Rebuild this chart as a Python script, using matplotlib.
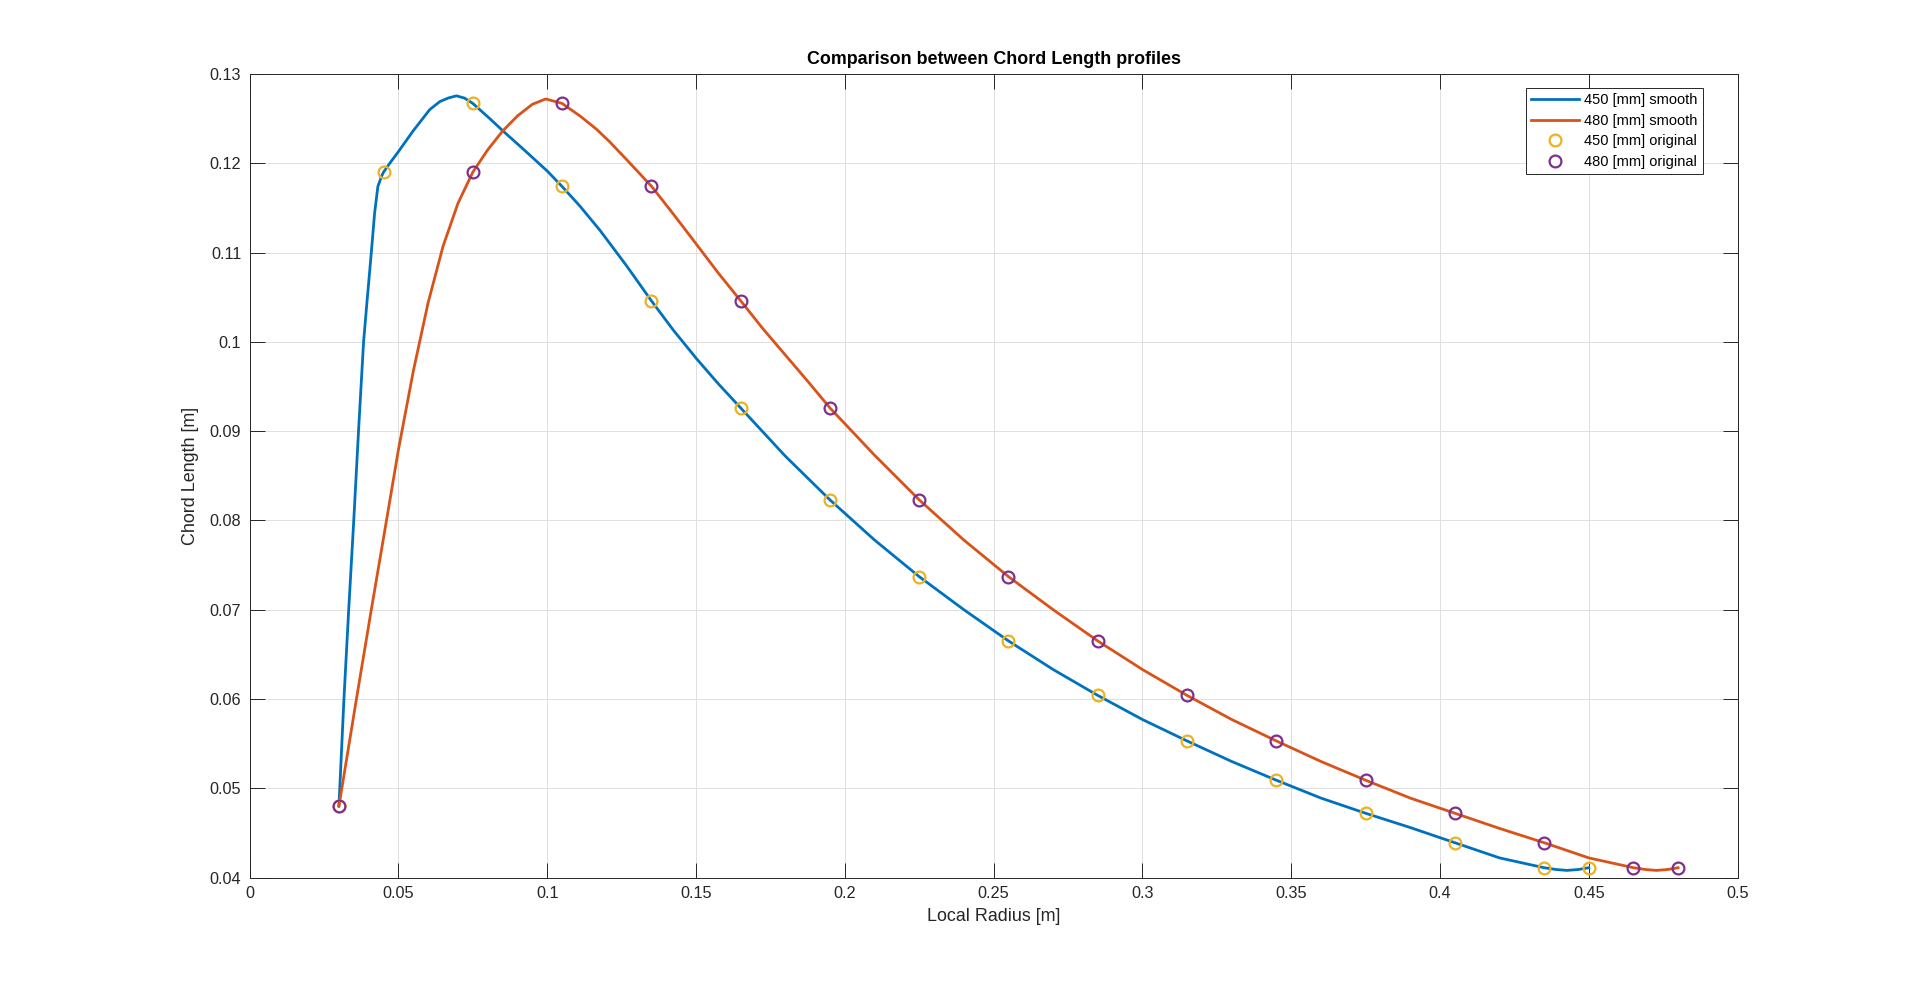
import matplotlib
matplotlib.use('Agg')
import matplotlib.pyplot as plt
from matplotlib.ticker import FuncFormatter

# original blade sections (radius [m], chord [m])
r_450 = [0.030, 0.045, 0.075, 0.105, 0.135, 0.165, 0.195, 0.225, 0.255, 0.285,
         0.315, 0.345, 0.375, 0.405, 0.435, 0.450]
c_450 = [0.0480, 0.1190, 0.1267, 0.1174, 0.1046, 0.0926, 0.0823, 0.0737, 0.0665, 0.0604,
         0.0553, 0.0509, 0.0472, 0.0439, 0.0411, 0.0411]

r_480 = [0.030, 0.075, 0.105, 0.135, 0.165, 0.195, 0.225, 0.255, 0.285, 0.315,
         0.345, 0.375, 0.405, 0.435, 0.465, 0.480]
c_480 = [0.0480, 0.1190, 0.1267, 0.1174, 0.1046, 0.0926, 0.0823, 0.0737, 0.0665, 0.0604,
         0.0553, 0.0509, 0.0472, 0.0439, 0.0411, 0.0411]

# smoothed profiles
rs_450 = [0.0300, 0.0303, 0.0317, 0.0333, 0.0350, 0.0366, 0.0383, 0.0395, 0.0409, 0.0420,
          0.0431, 0.0443, 0.0450, 0.0471, 0.0500, 0.0549, 0.0605, 0.0639, 0.0667, 0.0695,
          0.0722, 0.0750, 0.0807, 0.0852, 0.0919, 0.1001, 0.1050, 0.1110, 0.1177, 0.1267,
          0.1350, 0.1424, 0.1502, 0.1575, 0.1650, 0.1800, 0.1950, 0.2100, 0.2250, 0.2400,
          0.2550, 0.2700, 0.2850, 0.3000, 0.3150, 0.3300, 0.3450, 0.3600, 0.3750, 0.3900,
          0.4050, 0.4200, 0.4350, 0.4390, 0.4427, 0.4465, 0.4500]
cs_450 = [0.0480, 0.0500, 0.0600, 0.0700, 0.0800, 0.0900, 0.1000, 0.1047, 0.1100, 0.1144,
          0.1174, 0.1185, 0.1190, 0.1200, 0.1213, 0.1236, 0.1260, 0.1269, 0.1273, 0.12755,
          0.1273, 0.1267, 0.1250, 0.1236, 0.1216, 0.1191, 0.1174, 0.1152, 0.1125, 0.1085,
          0.1046, 0.1013, 0.0981, 0.0953, 0.0926, 0.0872, 0.0823, 0.0778, 0.0737, 0.0700,
          0.0665, 0.0633, 0.0604, 0.0577, 0.0553, 0.0530, 0.0509, 0.0489, 0.0472, 0.0456,
          0.0439, 0.0422, 0.0411, 0.0409, 0.0408, 0.0409, 0.0411]

rs_480 = [0.0300, 0.0310, 0.0359, 0.0409, 0.0460, 0.0500, 0.0550, 0.0600, 0.0650, 0.0700,
          0.0750, 0.0800, 0.0850, 0.0900, 0.0950, 0.0995, 0.1050, 0.1110, 0.1166, 0.1210,
          0.1267, 0.1351, 0.1424, 0.1502, 0.1575, 0.1650, 0.1724, 0.1793, 0.1875, 0.1950,
          0.2100, 0.2250, 0.2400, 0.2550, 0.2700, 0.2850, 0.3000, 0.3150, 0.3300, 0.3450,
          0.3600, 0.3750, 0.3900, 0.4050, 0.4200, 0.4350, 0.4500, 0.4650, 0.4690, 0.4727,
          0.4765, 0.4800]
cs_480 = [0.0480, 0.0500, 0.0600, 0.0700, 0.0800, 0.0879, 0.0967, 0.1044, 0.1107, 0.1155,
          0.1190, 0.1215, 0.1236, 0.1253, 0.1266, 0.1272, 0.1267, 0.1253, 0.1238, 0.1224,
          0.1204, 0.1174, 0.1143, 0.1109, 0.1077, 0.1046, 0.1015, 0.0988, 0.0956, 0.0926,
          0.0873, 0.0823, 0.0778, 0.0737, 0.0700, 0.0665, 0.0633, 0.0604, 0.0577, 0.0553,
          0.0530, 0.0509, 0.0489, 0.0472, 0.0455, 0.0439, 0.0422, 0.0411, 0.0409, 0.0408,
          0.0409, 0.0411]

x_ticks = [0, 0.05, 0.1, 0.15, 0.2, 0.25, 0.3, 0.35, 0.4, 0.45, 0.5]
y_ticks = [0.04, 0.05, 0.06, 0.07, 0.08, 0.09, 0.1, 0.11, 0.12, 0.13]

# matlab default colour order
blue = '#0072BD'
orange = '#D95319'
yellow = '#EDB120'
purple = '#7E2F8E'
axcol = '#262626'

plt.rcParams['font.family'] = ['Liberation Sans', 'DejaVu Sans']

fig = plt.figure(figsize=(19.2, 9.86), dpi=100)
ax = fig.add_axes([0.13, 0.11, 0.775, 0.815])

ax.plot(rs_450, cs_450, color=blue, lw=2.0, label='450 [mm] smooth')
ax.plot(rs_480, cs_480, color=orange, lw=2.0, label='480 [mm] smooth')
ax.plot(r_450, c_450, 'o', mfc='none', mec=yellow, mew=1.6, ms=8.5, label='450 [mm] original')
ax.plot(r_480, c_480, 'o', mfc='none', mec=purple, mew=1.6, ms=8.5, label='480 [mm] original')

ax.set_xlim(0, 0.5)
ax.set_ylim(0.04, 0.13)
ax.set_xticks(x_ticks)
ax.set_yticks(y_ticks)
fmt = FuncFormatter(lambda v, p: '%g' % round(v, 4))
ax.xaxis.set_major_formatter(fmt)
ax.yaxis.set_major_formatter(fmt)

ax.grid(True, color='#dfdfdf', lw=0.7)
ax.set_axisbelow(True)
ax.tick_params(direction='in', length=10.5, width=0.7, top=True, right=True,
               labelsize=11.7, colors=axcol, pad=6)
for s in ax.spines.values():
    s.set_color(axcol)
    s.set_linewidth(0.7)

ax.set_xlabel('Local Radius [m]', fontsize=12.9, color=axcol, labelpad=5)
ax.set_ylabel('Chord Length [m]', fontsize=12.9, color=axcol, labelpad=8)
ax.set_title('Comparison between Chord Length profiles', fontsize=12.9,
             fontweight='bold', color='black', pad=7)

leg = ax.legend(loc='upper right', bbox_to_anchor=(0.9765, 0.9825), borderaxespad=0,
                fontsize=10.5, fancybox=False, framealpha=1, edgecolor=axcol,
                handlelength=3.3, handletextpad=0.35, labelspacing=0.45, borderpad=0.35)
leg.get_frame().set_linewidth(0.7)

fig.savefig('out.png', dpi=100, facecolor='white')
